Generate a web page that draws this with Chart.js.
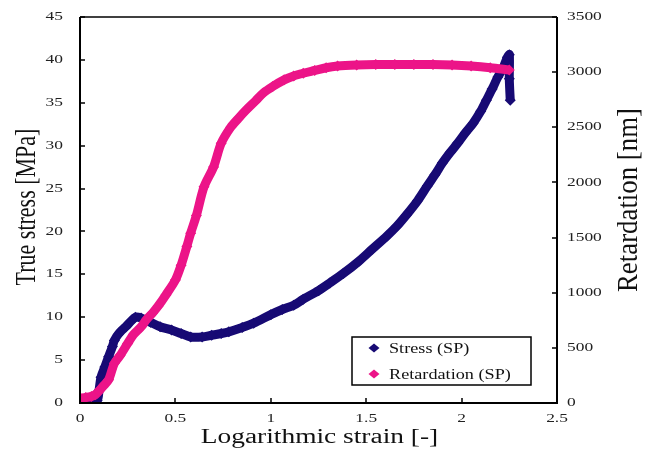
<!DOCTYPE html>
<html>
<head>
<meta charset="utf-8">
<script src="https://cdn.jsdelivr.net/npm/chart.js@4.4.1/dist/chart.umd.min.js"></script>
<style>
  html, body { margin: 0; padding: 0; background: #fff; }
  #wrap { width: 655px; height: 449px; }
</style>
</head>
<body>
<div id="wrap"><canvas id="chart"></canvas></div>
<script>
// values
const stressStrain = [0, 0.03, 0.06, 0.09, 0.10, 0.11, 0.13, 0.15, 0.17, 0.18, 0.20, 0.22, 0.24, 0.27, 0.29, 0.32, 0.37, 0.42, 0.48, 0.53, 0.58, 0.64, 0.69, 0.74, 0.78, 0.85, 0.91, 1.00, 1.06, 1.12, 1.17, 1.25, 1.31, 1.38, 1.46, 1.53, 1.61, 1.66, 1.71, 1.77, 1.82, 1.86, 1.90, 1.94, 1.98, 2.02, 2.06, 2.10, 2.13, 2.16, 2.19, 2.22, 2.24, 2.25, 2.25, 2.255];
const stressMPa = [0.1, 0.1, 0.2, 0.3, 1.5, 3.0, 4.2, 5.4, 6.6, 7.3, 8.0, 8.5, 8.9, 9.6, 10.0, 9.9, 9.4, 8.9, 8.5, 8.1, 7.7, 7.7, 7.9, 8.1, 8.3, 8.8, 9.3, 10.3, 10.9, 11.4, 12.1, 13.1, 14.0, 15.1, 16.5, 17.9, 19.5, 20.6, 21.9, 23.6, 25.3, 26.6, 28.0, 29.2, 30.3, 31.5, 32.6, 34.0, 35.3, 36.6, 38.0, 39.2, 40.3, 40.6, 37.8, 35.3];

const retStrain = [0, 0.03, 0.06, 0.08, 0.10, 0.12, 0.15, 0.18, 0.21, 0.25, 0.28, 0.32, 0.35, 0.38, 0.41, 0.45, 0.50, 0.53, 0.56, 0.58, 0.61, 0.65, 0.70, 0.74, 0.79, 0.83, 0.87, 0.92, 0.96, 1.01, 1.07, 1.12, 1.17, 1.23, 1.29, 1.35, 1.45, 1.55, 1.65, 1.75, 1.85, 1.95, 2.05, 2.15, 2.25];
const retardationNm = [45, 50, 60, 75, 110, 150, 210, 360, 430, 540, 620, 690, 760, 815, 880, 980, 1115, 1250, 1420, 1540, 1700, 1960, 2140, 2355, 2500, 2580, 2655, 2740, 2810, 2870, 2930, 2965, 2990, 3015, 3040, 3055, 3065, 3070, 3070, 3070, 3070, 3065, 3055, 3040, 3020];

const seriesNames = ['Stress (SP)', 'Retardation (SP)'];
const seriesColors = ['#170a74', '#ec1488'];

const xTitle = 'Logarithmic strain [-]';
const yTitle = 'True stress [MPa]';
const y1Title = 'Retardation [nm]';

const serif = "'Liberation Serif', 'Times New Roman', serif";

const toPoints = (xs, ys) => xs.map((x, i) => ({ x: x, y: ys[i] }));

// fixed box sizes so the plot area lands where the reference has it
const fixBox = size => scale => {
    if (scale.isHorizontal()) scale.height = size; else scale.width = size;
    scale.paddingLeft = scale.paddingRight = scale.paddingTop = scale.paddingBottom = 0;
};

// the reference text is drawn wide, so stretch it with a transform
function wideText(ctx, text, x, y, opts) {
    ctx.save();
    ctx.translate(x, y);
    if (opts.rotate) ctx.rotate(opts.rotate);
    ctx.scale(opts.sx || 1, opts.sy || 1);
    ctx.font = opts.size + 'px ' + serif;
    ctx.fillStyle = opts.color || '#111';
    ctx.textAlign = opts.align || 'center';
    ctx.textBaseline = opts.baseline || 'middle';
    ctx.fillText(text, 0, 0);
    ctx.restore();
}

const fmt = v => String(Math.round(v * 100) / 100);

// frame, inward tick marks, tick labels, titles and boxed legend
const framePlugin = {
    id: 'frame',
    afterDatasetsDraw(chart) {
        const { ctx, chartArea: a, scales } = chart;
        ctx.save();
        ctx.strokeStyle = '#000';
        ctx.lineWidth = 1.5;
        ctx.beginPath();
        ctx.moveTo(a.left, a.top); ctx.lineTo(a.right, a.top);
        ctx.stroke();
        ctx.lineWidth = 2;
        ctx.beginPath();
        ctx.moveTo(a.left, a.top); ctx.lineTo(a.left, a.bottom); ctx.lineTo(a.right, a.bottom); ctx.lineTo(a.right, a.top);
        ctx.stroke();

        ctx.lineWidth = 1.5;
        ctx.beginPath();
        scales.x.ticks.forEach(t => {
            const px = Math.round(scales.x.getPixelForValue(t.value));
            ctx.moveTo(px, a.bottom); ctx.lineTo(px, a.bottom - 5);
        });
        scales.y.ticks.forEach(t => {
            const py = Math.round(scales.y.getPixelForValue(t.value));
            ctx.moveTo(a.left, py); ctx.lineTo(a.left + 5, py);
        });
        scales.y1.ticks.forEach(t => {
            const py = Math.round(scales.y1.getPixelForValue(t.value));
            ctx.moveTo(a.right, py); ctx.lineTo(a.right - 5, py);
        });
        ctx.stroke();
        ctx.restore();

        // tick labels
        const tick = { size: 12, sx: 1.45, color: '#222' };
        scales.x.ticks.forEach(t => {
            wideText(ctx, fmt(t.value), scales.x.getPixelForValue(t.value), a.bottom + 16, tick);
        });
        scales.y.ticks.forEach(t => {
            wideText(ctx, fmt(t.value), a.left - 17, scales.y.getPixelForValue(t.value), { ...tick, align: 'right' });
        });
        scales.y1.ticks.forEach(t => {
            wideText(ctx, fmt(t.value), a.right + 10, scales.y1.getPixelForValue(t.value), { ...tick, align: 'left' });
        });

        // axis titles
        wideText(ctx, xTitle, (a.left + a.right) / 2 + 1, 443, { size: 20, sx: 1.37, baseline: 'alphabetic' });
        wideText(ctx, yTitle, 35, 207, { size: 22, sy: 1.3, rotate: -Math.PI / 2, baseline: 'alphabetic' });
        wideText(ctx, y1Title, 637, 200, { size: 22, sx: 1.22, sy: 1.3, rotate: -Math.PI / 2, baseline: 'alphabetic' });

        // legend
        ctx.save();
        const bw = 179, bh = 48;
        const bx = a.right - 26 - bw, by = a.bottom - 18 - bh;
        ctx.fillStyle = '#fff';
        ctx.fillRect(bx, by, bw, bh);
        ctx.strokeStyle = '#000';
        ctx.lineWidth = 1.5;
        ctx.strokeRect(bx, by, bw, bh);
        seriesNames.forEach((name, i) => {
            const cy = by + 11 + i * 26;
            const cx = bx + 22;
            ctx.fillStyle = seriesColors[i];
            ctx.beginPath();
            ctx.moveTo(cx, cy - 4.5); ctx.lineTo(cx + 5.5, cy); ctx.lineTo(cx, cy + 4.5); ctx.lineTo(cx - 5.5, cy);
            ctx.closePath();
            ctx.fill();
            wideText(ctx, name, bx + 37, cy + 1, { size: 14, sx: 1.3, align: 'left' });
        });
        ctx.restore();
    }
};

new Chart(document.getElementById('chart'), {
    type: 'line',
    data: {
        datasets: [
            {
                label: seriesNames[0],
                data: toPoints(stressStrain, stressMPa),
                yAxisID: 'y',
                borderColor: seriesColors[0],
                backgroundColor: seriesColors[0],
                borderWidth: 9,
                tension: 0.3,
                pointStyle: 'rectRot',
                pointRadius: 5.5,
                pointBorderWidth: 0,
                order: 1
            },
            {
                label: seriesNames[1],
                data: toPoints(retStrain, retardationNm),
                yAxisID: 'y1',
                borderColor: seriesColors[1],
                backgroundColor: seriesColors[1],
                borderWidth: 9,
                tension: 0.3,
                pointStyle: 'rectRot',
                pointRadius: 5.5,
                pointBorderWidth: 0,
                order: 0
            }
        ]
    },
    options: {
        responsive: true,
        maintainAspectRatio: false,
        animation: false,
        layout: { padding: { top: 17, left: 0, right: 0, bottom: 0 } },
        plugins: {
            legend: { display: false },
            tooltip: { enabled: false }
        },
        scales: {
            x: {
                type: 'linear',
                min: 0, max: 2.5,
                grid: { display: false, drawTicks: false },
                border: { display: false },
                ticks: { stepSize: 0.5, display: false },
                title: { display: false, text: xTitle },
                afterFit: fixBox(46)
            },
            y: {
                position: 'left',
                min: 0, max: 45,
                grid: { display: false, drawTicks: false },
                border: { display: false },
                ticks: { stepSize: 5, display: false },
                title: { display: false, text: yTitle },
                afterFit: fixBox(80)
            },
            y1: {
                position: 'right',
                min: 0, max: 3500,
                grid: { display: false, drawTicks: false },
                border: { display: false },
                ticks: { stepSize: 500, display: false },
                title: { display: false, text: y1Title },
                afterFit: fixBox(98)
            }
        }
    },
    plugins: [framePlugin]
});
</script>
</body>
</html>
